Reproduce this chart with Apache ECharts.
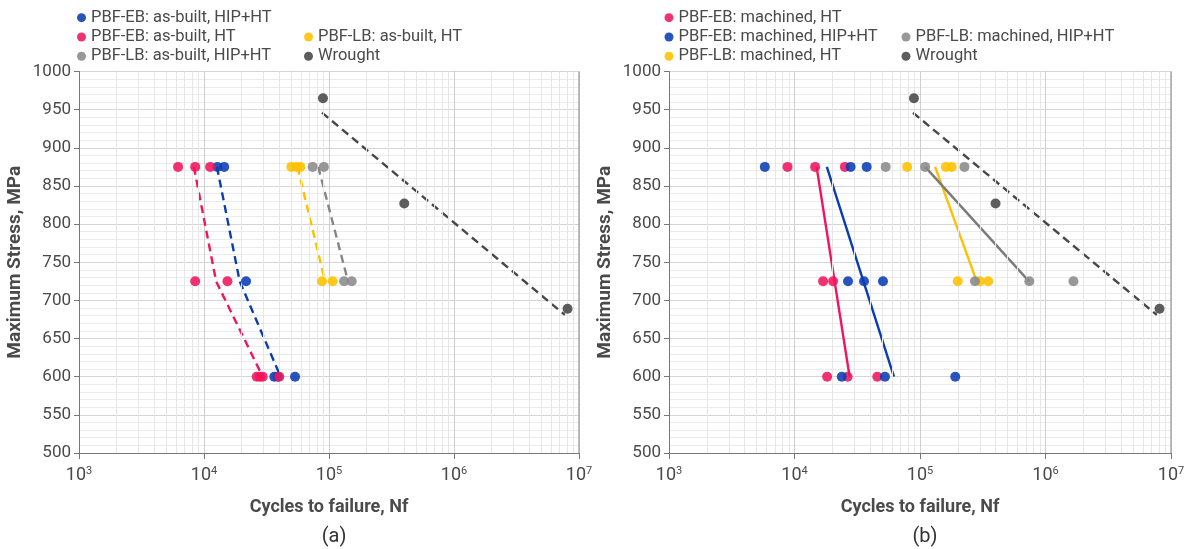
<!DOCTYPE html>
<html>
<head>
<meta charset="utf-8">
<script src="https://cdn.jsdelivr.net/npm/echarts@6/dist/echarts.min.js"></script>
<style>
  html, body { margin: 0; padding: 0; background: #fff; }
  #chart { width: 1192px; height: 549px; }
</style>
</head>
<body>
<div id="chart"></div>
<script>
// Fatigue data: [cycles to failure, maximum stress (MPa)]

// (a) as-built surfaces
const ebAsBuiltHipHt = [[1.28e4, 875], [1.45e4, 875], [2.17e4, 725], [3.65e4, 600], [3.9e4, 600], [5.35e4, 600]];
const ebAsBuiltHt = [[6.2e3, 875], [8.5e3, 875], [1.12e4, 875], [8.5e3, 725], [1.54e4, 725],
                     [2.64e4, 600], [2.8e4, 600], [2.95e4, 600], [4.0e4, 600]];
const lbAsBuiltHt = [[5.0e4, 875], [5.5e4, 875], [5.9e4, 875], [8.8e4, 725], [1.07e5, 725]];
const lbAsBuiltHipHt = [[7.4e4, 875], [9.1e4, 875], [1.32e5, 725], [1.52e5, 725]];

// (a) trend lines
const ebAsBuiltHipHtFit = [[1.27e4, 875], [1.93e4, 725], [4.1e4, 600]];
const ebAsBuiltHtFit = [[8.3e3, 875], [1.25e4, 725], [2.95e4, 600]];
const lbAsBuiltHtFit = [[5.6e4, 875], [9.3e4, 725]];
const lbAsBuiltHipHtFit = [[8.2e4, 875], [1.42e5, 725]];

// (b) machined surfaces
const ebMachinedHt = [[8.8e3, 875], [1.46e4, 875], [2.52e4, 875], [1.69e4, 725], [2.03e4, 725],
                      [1.82e4, 600], [2.65e4, 600], [4.57e4, 600]];
const ebMachinedHipHt = [[5.8e3, 875], [2.8e4, 875], [3.76e4, 875], [2.67e4, 725], [3.58e4, 725], [5.07e4, 725],
                         [2.38e4, 600], [5.26e4, 600], [1.91e5, 600]];
const lbMachinedHt = [[7.9e4, 875], [1.61e5, 875], [1.79e5, 875], [2.0e5, 725], [3.0e5, 725], [3.5e5, 725]];
const lbMachinedHipHt = [[5.33e4, 875], [1.1e5, 875], [2.26e5, 875], [2.74e5, 725], [7.43e5, 725], [1.67e6, 725]];

// (b) trend lines
const ebMachinedHtFit = [[1.5e4, 875], [2.75e4, 600]];
const ebMachinedHipHtFit = [[1.81e4, 875], [6.2e4, 600]];
const lbMachinedHtFit = [[1.32e5, 875], [2.83e5, 725]];
const lbMachinedHipHtFit = [[1.1e5, 875], [7.4e5, 725]];

// Wrought reference (both panels)
const wrought = [[8.95e4, 965], [4.0e5, 827], [8.1e6, 689]];
const wroughtFit = [[8.8e4, 946], [7.7e6, 681]];

// Axis ranges
const cyclesRange = [1e3, 1e7];
const stressRange = [500, 1000];
const stressStep = 50;
const panelTags = ['(a)', '(b)'];

const BLUE = '#0a3cb4', PINK = '#f0155c', YELLOW = '#ffc000', GRAY = '#8a8a8a', DARK = '#474747';
const FONT = 'Roboto, "Liberation Sans", sans-serif';
const TEXT = '#4a4a4a';

// Log-decade minor grid positions (2..9 x 10^k)
const minorX = [];
for (let e = 3; e < 7; e++) for (let m = 2; m <= 9; m++) minorX.push(m * Math.pow(10, e));

const grids = [
  { left: 79, right: 613, top: 71.5, bottom: 96 },
  { left: 669, right: 21, top: 71.5, bottom: 96 }
];

function xAxisFor(i) {
  return {
    type: 'log', logBase: 10, gridIndex: i,
    min: cyclesRange[0], max: cyclesRange[1],
    name: 'Cycles to failure, Nf', nameLocation: 'middle', nameGap: 45,
    nameTextStyle: { fontFamily: FONT, fontSize: 18, fontWeight: 'bold', color: TEXT },
    axisLine: { show: true, onZero: false, lineStyle: { color: '#777', width: 1 } },
    axisTick: { show: true, length: 6, lineStyle: { color: '#777' } },
    axisLabel: {
      margin: 13,
      formatter: v => '{b|10}{s|' + Math.round(Math.log10(v)) + '}',
      rich: {
        b: { fontFamily: FONT, fontSize: 18, color: TEXT, verticalAlign: 'bottom' },
        s: { fontFamily: FONT, fontSize: 11, color: TEXT, verticalAlign: 'top' }
      }
    },
    splitLine: { show: true, lineStyle: { color: '#cfcfcf', width: 1 } }
  };
}

function yAxisFor(i) {
  return {
    type: 'value', gridIndex: i,
    min: stressRange[0], max: stressRange[1], interval: stressStep,
    name: 'Maximum Stress, MPa', nameLocation: 'middle', nameGap: 54,
    nameTextStyle: { fontFamily: FONT, fontSize: 19, fontWeight: 'bold', color: TEXT },
    axisLine: { show: true, lineStyle: { color: '#777', width: 1 } },
    axisTick: { show: true, length: 5, lineStyle: { color: '#777' } },
    axisLabel: { fontFamily: FONT, fontSize: 17, color: TEXT, margin: 8, formatter: v => String(v) },
    splitLine: { show: true, lineStyle: { color: '#d4d4d4', width: 1 } },
    minorTick: { show: false, splitNumber: 5 },
    minorSplitLine: { show: true, lineStyle: { color: '#ebebeb', width: 1 } }
  };
}

function dots(name, data, color, i) {
  return {
    type: 'scatter', name, data, xAxisIndex: i, yAxisIndex: i,
    symbol: 'circle', symbolSize: 10, z: 5,
    itemStyle: { color, opacity: 0.88 }
  };
}

function trend(name, data, color, i, dashed) {
  return {
    type: 'line', name, data, xAxisIndex: i, yAxisIndex: i,
    showSymbol: false, symbol: 'none', z: 3, silent: true,
    lineStyle: { color, width: 2.4, type: dashed ? [8, 5] : 'solid' }
  };
}

function gridDecor(i) {
  return {
    type: 'line', name: 'grid-' + i, data: [], xAxisIndex: i, yAxisIndex: i, z: 1, silent: true,
    markLine: {
      silent: true, symbol: 'none', label: { show: false },
      lineStyle: { color: '#e6e6e6', width: 1, type: 'solid' },
      data: minorX.map(v => ({ xAxis: v })).concat([{ xAxis: cyclesRange[1], lineStyle: { color: '#a8a8a8', width: 1.5 } }])
    }
  };
}

function legendBlock(names, left, top) {
  return {
    data: names, left, top, orient: 'vertical', padding: 0,
    icon: 'circle', itemWidth: 9, itemHeight: 9, itemGap: 0,
    textStyle: { fontFamily: FONT, fontSize: 16.5, color: TEXT, lineHeight: 19.3 },
    selectedMode: false
  };
}

const option = {
  backgroundColor: '#fff',
  animation: false,
  title: panelTags.map((t, i) => ({
    text: t,
    left: i === 0 ? 329 : 920, top: 522, textAlign: 'center',
    textStyle: { fontFamily: FONT, fontSize: 20, fontWeight: 'normal', color: '#333' }
  })),
  legend: [
    legendBlock(['PBF-EB: as-built, HIP+HT', 'PBF-EB: as-built, HT', 'PBF-LB: as-built, HIP+HT'], 77, 8),
    legendBlock(['PBF-LB: as-built, HT', 'Wrought'], 304, 27.3),
    legendBlock(['PBF-EB: machined, HT', 'PBF-EB: machined, HIP+HT', 'PBF-LB: machined, HT'], 664.5, 8),
    legendBlock(['PBF-LB: machined, HIP+HT', 'Wrought'], 901.5, 27.3)
  ],
  grid: grids,
  xAxis: [xAxisFor(0), xAxisFor(1)],
  yAxis: [yAxisFor(0), yAxisFor(1)],
  series: [
    gridDecor(0), gridDecor(1),

    trend('fit a EB HT', ebAsBuiltHtFit, PINK, 0, true),
    trend('fit a EB HIP', ebAsBuiltHipHtFit, BLUE, 0, true),
    trend('fit a LB HT', lbAsBuiltHtFit, YELLOW, 0, true),
    trend('fit a LB HIP', lbAsBuiltHipHtFit, '#858585', 0, true),
    trend('fit a wrought', wroughtFit, DARK, 0, true),
    dots('PBF-EB: as-built, HIP+HT', ebAsBuiltHipHt, BLUE, 0),
    dots('PBF-EB: as-built, HT', ebAsBuiltHt, PINK, 0),
    dots('PBF-LB: as-built, HT', lbAsBuiltHt, YELLOW, 0),
    dots('PBF-LB: as-built, HIP+HT', lbAsBuiltHipHt, GRAY, 0),
    dots('Wrought', wrought, DARK, 0),

    trend('fit b EB HT', ebMachinedHtFit, PINK, 1, false),
    trend('fit b EB HIP', ebMachinedHipHtFit, BLUE, 1, false),
    trend('fit b LB HT', lbMachinedHtFit, YELLOW, 1, false),
    trend('fit b LB HIP', lbMachinedHipHtFit, '#7a7a7a', 1, false),
    trend('fit b wrought', wroughtFit, DARK, 1, true),
    dots('PBF-EB: machined, HT', ebMachinedHt, PINK, 1),
    dots('PBF-EB: machined, HIP+HT', ebMachinedHipHt, BLUE, 1),
    dots('PBF-LB: machined, HT', lbMachinedHt, YELLOW, 1),
    dots('PBF-LB: machined, HIP+HT', lbMachinedHipHt, GRAY, 1),
    dots('Wrought', wrought, DARK, 1)
  ]
};

const chart = echarts.init(document.getElementById('chart'), null, { renderer: 'canvas' });
chart.setOption(option);
</script>
</body>
</html>
